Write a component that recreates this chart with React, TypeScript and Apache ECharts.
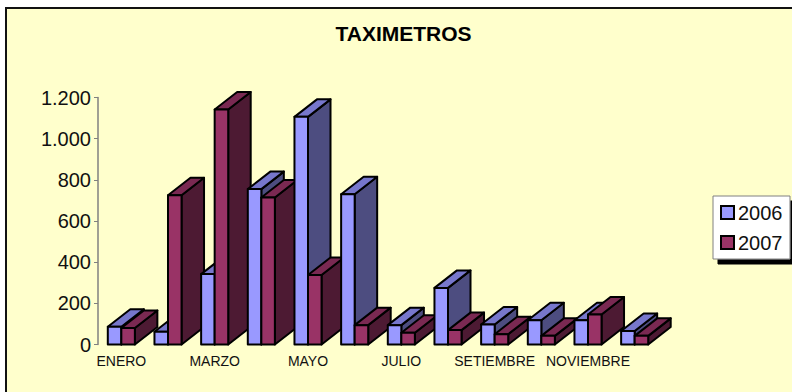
import React, { useEffect, useRef } from "react";
import * as echarts from "echarts";

const categories = ["ENERO", "FEBRERO", "MARZO", "ABRIL", "MAYO", "JUNIO", "JULIO", "AGOSTO", "SETIEMBRE", "OCTUBRE", "NOVIEMBRE", "DICIEMBRE"];
const values2006 = [86, 62, 342, 755, 1106, 730, 94, 275, 97, 118, 118, 66];
const values2007 = [80, 725, 1142, 714, 338, 94, 57, 70, 50, 42, 146, 42];

const FONT = "'Liberation Sans', Arial, sans-serif";
const DEPTH_X = 22.5;
const DEPTH_Y = 17.5;

const bar3d = (seriesIdx: number, front: string, top: string, side: string) => (params: any, api: any) => {
  const i = params.dataIndex;
  const base = api.coord([i, 0]);
  const head = api.coord([i, api.value(1)]);
  const w = api.size([1, 0])[0] * 0.29;
  const x0 = base[0] + (seriesIdx - 1) * w;
  const x1 = x0 + w;
  const y0 = head[1];
  const y1 = base[1];
  const z2 = i * 2 + seriesIdx;
  const stroke = { stroke: "#000", lineWidth: 2, lineJoin: "round" };
  return {
    type: "group",
    children: [
      {
        type: "polygon", z2,
        shape: { points: [[x1, y1], [x1 + DEPTH_X, y1 - DEPTH_Y], [x1 + DEPTH_X, y0 - DEPTH_Y], [x1, y0]] },
        style: { fill: side, ...stroke },
      },
      {
        type: "polygon", z2,
        shape: { points: [[x0, y0], [x0 + DEPTH_X, y0 - DEPTH_Y], [x1 + DEPTH_X, y0 - DEPTH_Y], [x1, y0]] },
        style: { fill: top, ...stroke },
      },
      {
        type: "rect", z2,
        shape: { x: x0, y: y0, width: w, height: y1 - y0 },
        style: { fill: front, ...stroke },
      },
    ],
  };
};

export default function App() {
  const ref = useRef<HTMLDivElement>(null);
  useEffect(() => {
    document.body.style.margin = "0";
    const chart = echarts.init(ref.current!, undefined, { renderer: "svg" });
    chart.setOption({
      animation: false,
      backgroundColor: "#ffffff",
      textStyle: { fontFamily: FONT },
      graphic: {
        elements: [
          { type: "rect", silent: true, z: -10, shape: { x: 6, y: 8, width: 786, height: 384 }, style: { fill: "#FFFFCC" } },
          { type: "polyline", silent: true, z: -9, shape: { points: [[6, 392], [6, 8], [792, 8]] }, style: { fill: "none", stroke: "#111", lineWidth: 2 } },
        ],
      },
      title: {
        text: "TAXIMETROS",
        left: 335.5,
        top: 23,
        padding: 0,
        textStyle: { fontFamily: FONT, fontSize: 21, fontWeight: "bold", color: "#000" },
      },
      grid: { left: 98, top: 97.5, width: 560, height: 247 },
      xAxis: {
        type: "category",
        data: categories,
        axisLine: { show: false },
        axisTick: { show: false },
        axisLabel: { interval: 1, fontSize: 14, color: "#111", fontFamily: FONT, margin: 9 },
      },
      yAxis: {
        type: "value",
        min: 0,
        max: 1200,
        interval: 200,
        splitLine: { show: false },
        axisLine: { show: true, lineStyle: { color: "#808080", width: 1.5 } },
        axisTick: { show: true, length: 4, lineStyle: { color: "#808080", width: 1 } },
        axisLabel: {
          fontSize: 20, color: "#111", fontFamily: FONT, margin: 7,
          formatter: (v: number) => String(v).replace(/\B(?=(\d{3})+$)/g, "."),
        },
      },
      legend: {
        orient: "vertical",
        left: 713,
        top: 196,
        padding: [6.5, 7.5, 6.5, 7],
        icon: "rect",
        itemWidth: 13,
        itemHeight: 13,
        itemGap: 10,
        backgroundColor: "#fff",
        borderColor: "#808080",
        borderWidth: 1,
        shadowColor: "#000",
        shadowBlur: 0,
        shadowOffsetX: 5,
        shadowOffsetY: 5,
        itemStyle: { borderColor: "#000", borderWidth: 2 },
        textStyle: { fontFamily: FONT, fontSize: 20, color: "#111", padding: [0, 0, 0, -1] },
        data: ["2006", "2007"],
      },
      series: [
        {
          type: "custom",
          name: "2006",
          itemStyle: { color: "#9999FF" },
          data: values2006.map((v, i) => [categories[i], v]),
          encode: { x: 0, y: 1 },
          renderItem: bar3d(0, "#9999FF", "#7777CC", "#4D4D80"),
        },
        {
          type: "custom",
          name: "2007",
          itemStyle: { color: "#993366" },
          data: values2007.map((v, i) => [categories[i], v]),
          encode: { x: 0, y: 1 },
          renderItem: bar3d(1, "#993366", "#7A2952", "#4D1A33"),
        },
      ],
    });
    return () => chart.dispose();
  }, []);
  return <div ref={ref} style={{ width: 792, height: 392 }} />;
}
